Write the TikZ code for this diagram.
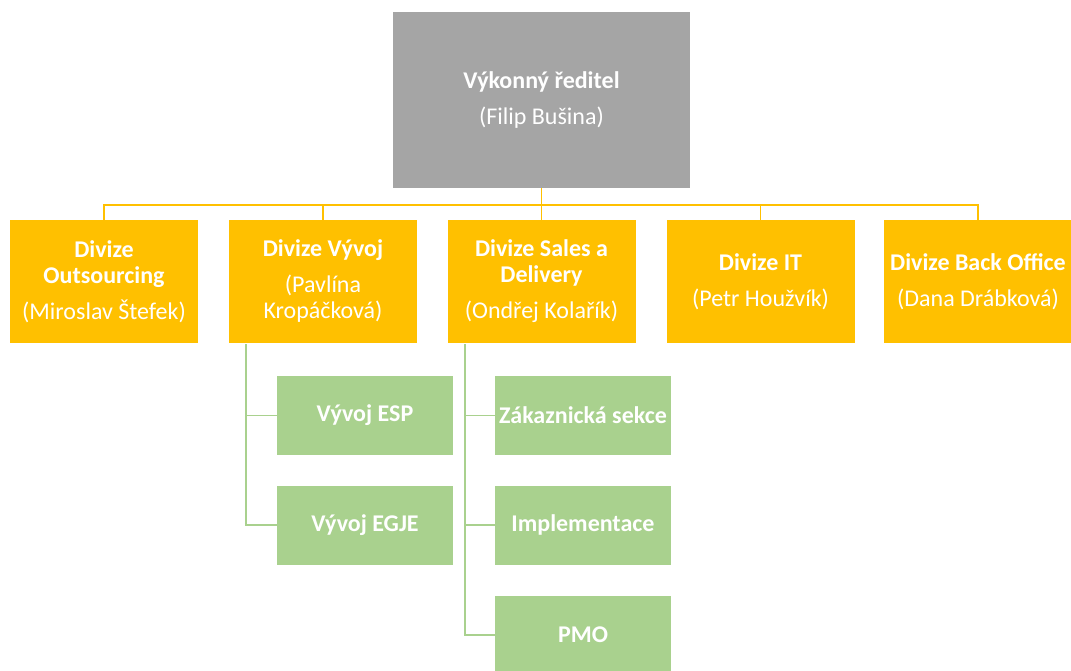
\documentclass[tikz,border=0pt]{standalone}
\usepackage{fontspec}
\setmainfont{Carlito}
\definecolor{bossgray}{HTML}{A5A5A5}
\definecolor{divorange}{HTML}{FFC000}
\definecolor{unitgreen}{HTML}{A9D18E}
\tikzset{
  box/.style={rectangle, text=white, align=center, inner sep=2pt,
    font=\fontsize{24}{26}\selectfont},
  boss/.style={box, fill=bossgray, minimum width=297pt, minimum height=176pt},
  division/.style={box, fill=divorange, minimum width=188pt, minimum height=123pt},
  unit/.style={box, fill=unitgreen, minimum width=176pt, minimum height=79pt, font=\bfseries\fontsize{24}{26}\selectfont},
  orgline/.style={draw=divorange, line width=1.2pt},
  unitline/.style={draw=unitgreen, line width=1.2pt}
}
\begin{document}
\begin{tikzpicture}[x=1pt,y=-1pt]
\useasboundingbox (0,0) rectangle (1071,671);

\node[boss] (ceo) at (541.5,100) {\textbf{Výkonný ředitel}\\[10pt](Filip Bušina)};

\node[division] (outsourcing) at (104,281.5) {\textbf{Divize}\\\textbf{Outsourcing}\\[10pt](Miroslav Štefek)};
\node[division] (vyvoj) at (323,281.5) {\textbf{Divize Vývoj}\\[10pt](Pavlína\\Kropáčková)};
\node[division] (sales) at (541.5,281.5) {\textbf{Divize Sales a}\\\textbf{Delivery}\\[10pt](Ondřej Kolařík)};
\node[division] (it) at (760.5,281.5) {\textbf{Divize IT}\\[10pt](Petr Houžvík)};
\node[division] (backoffice) at (978,281.5) {\textbf{Divize Back Office}\\[10pt](Dana Drábková)};

\node[unit] (esp) at (365,415.5) {Vývoj ESP};
\node[unit] (egje) at (365,525) {Vývoj EGJE};
\node[unit] (zakaznicka) at (583,415.5) {Zákaznická sekce};
\node[unit] (implementace) at (583,525) {Implementace};
\node[unit] (pmo) at (583,635) {PMO};

\coordinate (bus) at (541.5,205);
\coordinate (vyvojrail) at (246,344);
\coordinate (salesrail) at (465,344);

\foreach \div in {outsourcing, vyvoj, sales, it, backoffice}
	\draw[orgline] (ceo.south) -- (ceo.south |- bus) -| (\div.north);

\foreach \from/\to in {vyvojrail/esp, vyvojrail/egje, salesrail/zakaznicka, salesrail/implementace, salesrail/pmo}
	\draw[unitline] (\from) |- (\to.west);

\end{tikzpicture}
\end{document}
